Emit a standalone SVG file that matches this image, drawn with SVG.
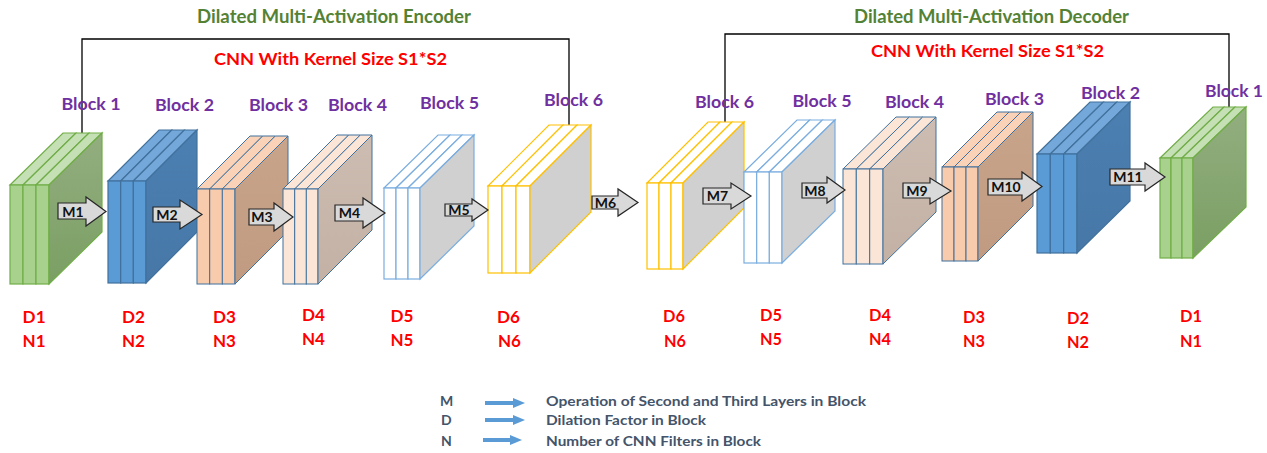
<svg xmlns="http://www.w3.org/2000/svg" width="1267" height="453" viewBox="0 0 1267 453">
<defs>
<linearGradient id="gSide" x1="0" y1="0" x2="0" y2="1"><stop offset="0" stop-color="#93ae80"/><stop offset="1" stop-color="#7a9f63"/></linearGradient>
<linearGradient id="bSide" x1="0" y1="0" x2="0" y2="1"><stop offset="0" stop-color="#4c80b2"/><stop offset="1" stop-color="#4677a7"/></linearGradient>
<linearGradient id="oSide" x1="0" y1="0" x2="0" y2="1"><stop offset="0" stop-color="#c8a48b"/><stop offset="1" stop-color="#c09b82"/></linearGradient>
<linearGradient id="pSide" x1="0" y1="0" x2="0" y2="1"><stop offset="0" stop-color="#cdbcb1"/><stop offset="1" stop-color="#c3b1a5"/></linearGradient>
</defs>
<style>
.green .t{fill:#c5e0b4}.green .f{fill:#a9d18e}.green .s{fill:url(#gSide)}.green *{stroke:#70ad47;stroke-width:1.2}
.blue .t{fill:#74a8da}.blue .f{fill:#5b9bd5}.blue .s{fill:url(#bSide)}.blue *{stroke:#41719c;stroke-width:1.2}
.orange .t{fill:#f9d2b8}.orange .f{fill:#f8cbad}.orange .s{fill:url(#oSide)}.orange *{stroke:#41719c;stroke-width:1}
.peach .t{fill:#fbe5d6}.peach .f{fill:#fbe5d6}.peach .s{fill:url(#pSide)}.peach *{stroke:#41719c;stroke-width:1}
.white .t,.white .f{fill:#ffffff}.white .s{fill:#d0d0d0}.white *{stroke:#7aaddf;stroke-width:1.2}
.yellow .t,.yellow .f{fill:#ffffff}.yellow .s{fill:#d0d0d0}.yellow *{stroke:#ffc000;stroke-width:1.2}
.arr path{fill:#d9d9d9;stroke:#262626;stroke-width:1.2}
.arr text{font-family:Lato,"Liberation Sans",sans-serif;font-weight:bold;font-size:14px;fill:#111;text-anchor:middle}
.title{font-family:Lato,"Liberation Sans",sans-serif;font-weight:bold;font-size:18px;fill:#548235}
.cnn{font-family:Lato,"Liberation Sans",sans-serif;font-weight:bold;font-size:17px;fill:#ff0000}
.blk{font-family:Lato,"Liberation Sans",sans-serif;font-weight:bold;font-size:17px;fill:#7030a0}
.dn{font-family:Lato,"Liberation Sans",sans-serif;font-weight:bold;font-size:17px;fill:#ff0000}
.leg{font-family:Lato,"Liberation Sans",sans-serif;font-weight:bold;font-size:14px;fill:#44546a}
.conn{fill:none;stroke:#000;stroke-width:1.3}
</style>
<rect width="1267" height="453" fill="#ffffff"/>

<text class="title" x="197" y="23" textLength="274" lengthAdjust="spacingAndGlyphs">Dilated Multi-Activation Encoder</text>
<text class="title" x="854" y="23" textLength="275" lengthAdjust="spacingAndGlyphs">Dilated Multi-Activation Decoder</text>
<text class="cnn" x="214" y="65" textLength="233" lengthAdjust="spacingAndGlyphs">CNN With Kernel Size S1*S2</text>
<text class="cnn" x="871" y="57" textLength="233" lengthAdjust="spacingAndGlyphs">CNN With Kernel Size S1*S2</text>

<g id="connectors">
<polyline class="conn" points="82,133 82,39 569,39 569,125"/>
<polyline class="conn" points="725,122 725,34 1229,34 1229,107"/>
</g>

<g id="enc-block1" class="green">
<path class="t" d="M10,185L63,133L76,133L23,185Z"/><rect class="f" x="10" y="185" width="13" height="99"/>
<path class="t" d="M23,185L76,133L89,133L36,185Z"/><rect class="f" x="23" y="185" width="13" height="99"/>
<path class="t" d="M36,185L89,133L102,133L49,185Z"/><rect class="f" x="36" y="185" width="13" height="99"/>
<path class="s" d="M49,185L102,133L102,232L49,284Z"/>
</g>
<g id="enc-block2" class="blue">
<path class="t" d="M108,181L159,130L171.7,130L120.7,181Z"/><rect class="f" x="108" y="181" width="12.7" height="102"/>
<path class="t" d="M120.7,181L171.7,130L184.3,130L133.3,181Z"/><rect class="f" x="120.7" y="181" width="12.7" height="102"/>
<path class="t" d="M133.3,181L184.3,130L197,130L146,181Z"/><rect class="f" x="133.3" y="181" width="12.7" height="102"/>
<path class="s" d="M146,181L197,130L197,232L146,283Z"/>
</g>
<g id="enc-block3" class="orange">
<path class="t" d="M197,189L250,136L262.7,136L209.7,189Z"/><rect class="f" x="197" y="189" width="12.7" height="95"/>
<path class="t" d="M209.7,189L262.7,136L275.3,136L222.3,189Z"/><rect class="f" x="209.7" y="189" width="12.7" height="95"/>
<path class="t" d="M222.3,189L275.3,136L288,136L235,189Z"/><rect class="f" x="222.3" y="189" width="12.7" height="95"/>
<path class="s" d="M235,189L288,136L288,231L235,284Z"/>
</g>
<g id="enc-block4" class="peach">
<path class="t" d="M283,189L337,135L348.7,135L294.7,189Z"/><rect class="f" x="283" y="189" width="11.7" height="95"/>
<path class="t" d="M294.7,189L348.7,135L360.3,135L306.3,189Z"/><rect class="f" x="294.7" y="189" width="11.7" height="95"/>
<path class="t" d="M306.3,189L360.3,135L372,135L318,189Z"/><rect class="f" x="306.3" y="189" width="11.7" height="95"/>
<path class="s" d="M318,189L372,135L372,230L318,284Z"/>
</g>
<g id="enc-block5" class="white">
<path class="t" d="M384,188L438,135L450,135L396,188Z"/><rect class="f" x="384" y="188" width="12" height="91"/>
<path class="t" d="M396,188L450,135L462,135L408,188Z"/><rect class="f" x="396" y="188" width="12" height="91"/>
<path class="t" d="M408,188L462,135L474,135L420,188Z"/><rect class="f" x="408" y="188" width="12" height="91"/>
<path class="s" d="M420,188L474,135L474,226L420,279Z"/>
</g>
<g id="enc-block6" class="yellow">
<path class="t" d="M488,186L549,125L563,125L502,186Z"/><rect class="f" x="488" y="186" width="14" height="87"/>
<path class="t" d="M502,186L563,125L577,125L516,186Z"/><rect class="f" x="502" y="186" width="14" height="87"/>
<path class="t" d="M516,186L577,125L591,125L530,186Z"/><rect class="f" x="516" y="186" width="14" height="87"/>
<path class="s" d="M530,186L591,125L591,212L530,273Z"/>
</g>

<g id="dec-block6" class="yellow">
<path class="t" d="M647,183L708,122L720,122L659,183Z"/><rect class="f" x="647" y="183" width="12" height="86"/>
<path class="t" d="M659,183L720,122L732,122L671,183Z"/><rect class="f" x="659" y="183" width="12" height="86"/>
<path class="t" d="M671,183L732,122L744,122L683,183Z"/><rect class="f" x="671" y="183" width="12" height="86"/>
<path class="s" d="M683,183L744,122L744,208L683,269Z"/>
</g>
<g id="dec-block5" class="white">
<path class="t" d="M744,172L797,120L809.7,120L756.7,172Z"/><rect class="f" x="744" y="172" width="12.7" height="91"/>
<path class="t" d="M756.7,172L809.7,120L822.3,120L769.3,172Z"/><rect class="f" x="756.7" y="172" width="12.7" height="91"/>
<path class="t" d="M769.3,172L822.3,120L835,120L782,172Z"/><rect class="f" x="769.3" y="172" width="12.7" height="91"/>
<path class="s" d="M782,172L835,120L835,211L782,263Z"/>
</g>
<g id="dec-block4" class="peach">
<path class="t" d="M843,169L896,117L909.3,117L856.3,169Z"/><rect class="f" x="843" y="169" width="13.3" height="95"/>
<path class="t" d="M856.3,169L909.3,117L922.7,117L869.7,169Z"/><rect class="f" x="856.3" y="169" width="13.3" height="95"/>
<path class="t" d="M869.7,169L922.7,117L936,117L883,169Z"/><rect class="f" x="869.7" y="169" width="13.3" height="95"/>
<path class="s" d="M883,169L936,117L936,212L883,264Z"/>
</g>
<g id="dec-block3" class="orange">
<path class="t" d="M942,167L997,112L1009,112L954,167Z"/><rect class="f" x="942" y="167" width="12" height="94"/>
<path class="t" d="M954,167L1009,112L1021,112L966,167Z"/><rect class="f" x="954" y="167" width="12" height="94"/>
<path class="t" d="M966,167L1021,112L1033,112L978,167Z"/><rect class="f" x="966" y="167" width="12" height="94"/>
<path class="s" d="M978,167L1033,112L1033,206L978,261Z"/>
</g>
<g id="dec-block2" class="blue">
<path class="t" d="M1037,154L1090,102L1103.3,102L1050.3,154Z"/><rect class="f" x="1037" y="154" width="13.3" height="99"/>
<path class="t" d="M1050.3,154L1103.3,102L1116.7,102L1063.7,154Z"/><rect class="f" x="1050.3" y="154" width="13.3" height="99"/>
<path class="t" d="M1063.7,154L1116.7,102L1130,102L1077,154Z"/><rect class="f" x="1063.7" y="154" width="13.3" height="99"/>
<path class="s" d="M1077,154L1130,102L1130,201L1077,253Z"/>
</g>
<g id="dec-block1" class="green">
<path class="t" d="M1160,158L1213,107L1224,107L1171,158Z"/><rect class="f" x="1160" y="158" width="11" height="100"/>
<path class="t" d="M1171,158L1224,107L1235,107L1182,158Z"/><rect class="f" x="1171" y="158" width="11" height="100"/>
<path class="t" d="M1182,158L1235,107L1246,107L1193,158Z"/><rect class="f" x="1182" y="158" width="11" height="100"/>
<path class="s" d="M1193,158L1246,107L1246,207L1193,258Z"/>
</g>

<g id="ops" class="arr">
<g id="m1"><path d="M58,203H86V197L106,211.5L86,226V219H58Z"/><text x="73" y="216.5">M1</text></g>
<g id="m2"><path d="M153,207H180V200L202,214.5L180,229V222H153Z"/><text x="167" y="219.5">M2</text></g>
<g id="m3"><path d="M249,209H274V203L293,217L274,231V225H249Z"/><text x="262" y="222">M3</text></g>
<g id="m4"><path d="M335,205H363V198L385,213L363,228V221H335Z"/><text x="349.5" y="218">M4</text></g>
<g id="m5"><path d="M445,204H472V199L488,210L472,221V216H445Z"/><text x="459" y="215">M5</text></g>
<g id="m6"><path d="M592,196H618V189L638,202.5L618,216V209H592Z"/><text x="605.5" y="207.5">M6</text></g>
<g id="m7"><path d="M703,188H731V183L751,196L731,209V204H703Z"/><text x="717.5" y="201">M7</text></g>
<g id="m8"><path d="M802,183H827V177L845,190L827,203V198H802Z"/><text x="815" y="195.5">M8</text></g>
<g id="m9"><path d="M903,183H930V178L951,191L930,204V198H903Z"/><text x="917" y="195.5">M9</text></g>
<g id="m10"><path d="M988,179H1022V172L1042,186.5L1022,201V195H988Z"/><text x="1006" y="192">M10</text></g>
<g id="m11"><path d="M1110,169H1145V163L1165,177L1145,191V185H1110Z"/><text x="1128" y="182">M11</text></g>
</g>

<g id="block-labels">
<text class="blk" x="61.5" y="110" textLength="59" lengthAdjust="spacingAndGlyphs">Block 1</text>
<text class="blk" x="155" y="111" textLength="59" lengthAdjust="spacingAndGlyphs">Block 2</text>
<text class="blk" x="249" y="111" textLength="59" lengthAdjust="spacingAndGlyphs">Block 3</text>
<text class="blk" x="328" y="111" textLength="59" lengthAdjust="spacingAndGlyphs">Block 4</text>
<text class="blk" x="420" y="109" textLength="59" lengthAdjust="spacingAndGlyphs">Block 5</text>
<text class="blk" x="544" y="106" textLength="59" lengthAdjust="spacingAndGlyphs">Block 6</text>
<text class="blk" x="695" y="108" textLength="59" lengthAdjust="spacingAndGlyphs">Block 6</text>
<text class="blk" x="792.5" y="107" textLength="59" lengthAdjust="spacingAndGlyphs">Block 5</text>
<text class="blk" x="885" y="108" textLength="59" lengthAdjust="spacingAndGlyphs">Block 4</text>
<text class="blk" x="985" y="105" textLength="59" lengthAdjust="spacingAndGlyphs">Block 3</text>
<text class="blk" x="1081" y="99" textLength="59" lengthAdjust="spacingAndGlyphs">Block 2</text>
<text class="blk" x="1205" y="97" textLength="58" lengthAdjust="spacingAndGlyphs">Block 1</text>
</g>

<g id="dn-labels">
<text class="dn" x="22.6" y="323" textLength="23" lengthAdjust="spacingAndGlyphs">D1</text>
<text class="dn" x="22.6" y="347" textLength="23" lengthAdjust="spacingAndGlyphs">N1</text>
<text class="dn" x="122" y="323" textLength="23" lengthAdjust="spacingAndGlyphs">D2</text>
<text class="dn" x="122" y="347" textLength="23" lengthAdjust="spacingAndGlyphs">N2</text>
<text class="dn" x="213" y="323" textLength="23" lengthAdjust="spacingAndGlyphs">D3</text>
<text class="dn" x="213" y="347" textLength="23" lengthAdjust="spacingAndGlyphs">N3</text>
<text class="dn" x="302" y="321" textLength="23" lengthAdjust="spacingAndGlyphs">D4</text>
<text class="dn" x="302" y="345" textLength="23" lengthAdjust="spacingAndGlyphs">N4</text>
<text class="dn" x="390.5" y="322" textLength="23" lengthAdjust="spacingAndGlyphs">D5</text>
<text class="dn" x="390.5" y="346" textLength="23" lengthAdjust="spacingAndGlyphs">N5</text>
<text class="dn" x="497" y="323" textLength="23" lengthAdjust="spacingAndGlyphs">D6</text>
<text class="dn" x="498" y="347" textLength="23" lengthAdjust="spacingAndGlyphs">N6</text>
<text class="dn" x="663" y="322" textLength="22" lengthAdjust="spacingAndGlyphs">D6</text>
<text class="dn" x="664" y="347" textLength="22" lengthAdjust="spacingAndGlyphs">N6</text>
<text class="dn" x="760" y="321" textLength="22" lengthAdjust="spacingAndGlyphs">D5</text>
<text class="dn" x="760" y="345" textLength="22" lengthAdjust="spacingAndGlyphs">N5</text>
<text class="dn" x="869" y="321" textLength="22" lengthAdjust="spacingAndGlyphs">D4</text>
<text class="dn" x="869" y="345" textLength="22" lengthAdjust="spacingAndGlyphs">N4</text>
<text class="dn" x="963" y="323" textLength="22" lengthAdjust="spacingAndGlyphs">D3</text>
<text class="dn" x="963" y="347" textLength="22" lengthAdjust="spacingAndGlyphs">N3</text>
<text class="dn" x="1067" y="324" textLength="22" lengthAdjust="spacingAndGlyphs">D2</text>
<text class="dn" x="1067" y="348" textLength="22" lengthAdjust="spacingAndGlyphs">N2</text>
<text class="dn" x="1180" y="322" textLength="22" lengthAdjust="spacingAndGlyphs">D1</text>
<text class="dn" x="1180" y="347" textLength="22" lengthAdjust="spacingAndGlyphs">N1</text>
</g>

<g id="legend">
<text class="leg" x="440" y="406">M</text>
<text class="leg" x="441" y="425">D</text>
<text class="leg" x="441" y="446">N</text>
<g fill="#5b9bd5" stroke="none">
<rect x="485" y="401" width="29" height="4"/><polygon points="513,398 525,403 513,408"/>
<rect x="485" y="418" width="29" height="4"/><polygon points="513,415 525,420 513,425"/>
<rect x="483" y="438" width="28" height="4"/><polygon points="510,435 522,440 510,445"/>
</g>
<text class="leg" x="546" y="406" textLength="320" lengthAdjust="spacingAndGlyphs">Operation of Second and Third Layers in Block</text>
<text class="leg" x="546" y="425" textLength="160" lengthAdjust="spacingAndGlyphs">Dilation Factor in Block</text>
<text class="leg" x="546" y="446" textLength="215" lengthAdjust="spacingAndGlyphs">Number of CNN Filters in Block</text>
</g>
</svg>
